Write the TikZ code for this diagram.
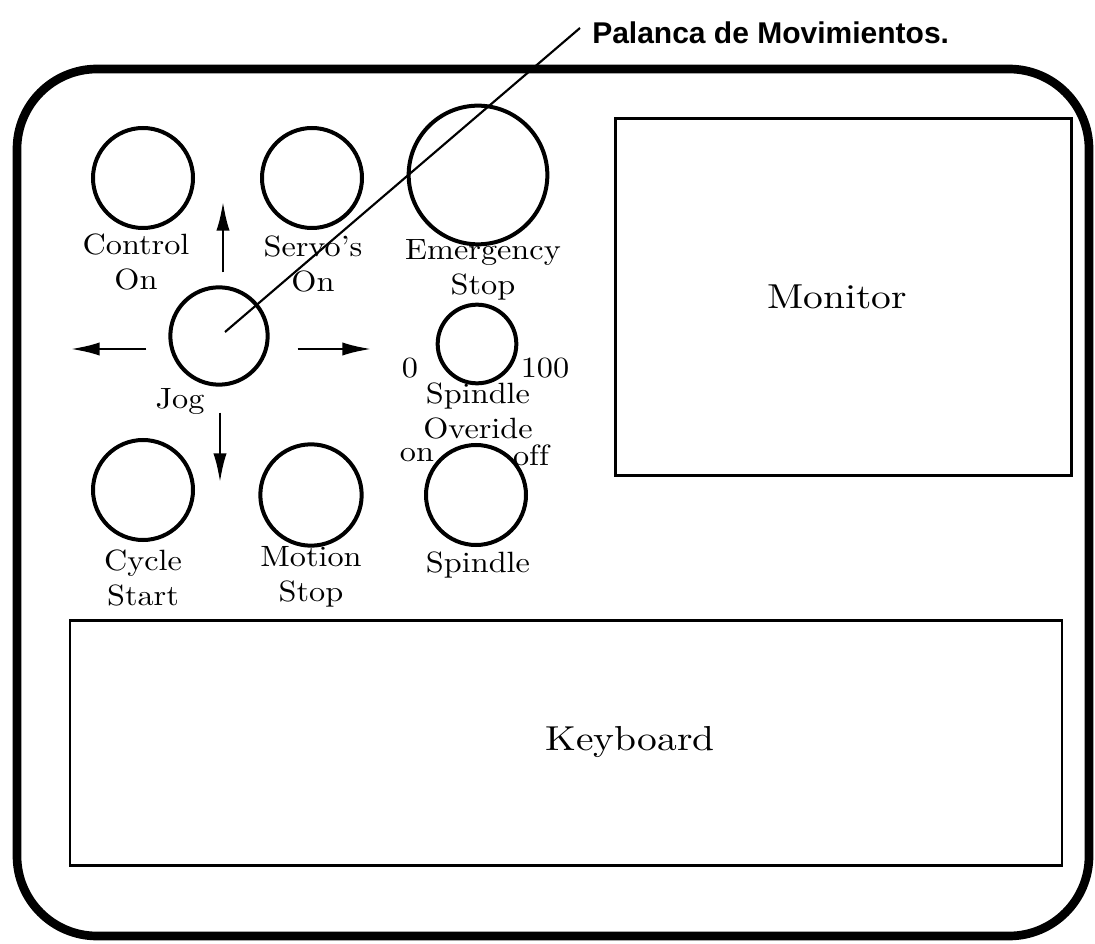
\documentclass[tikz,border=0pt]{standalone}
\usepackage{fontspec}
\newfontfamily\leverfont{Liberation Sans}
\newfontfamily\panelfont{lmroman10-regular.otf}[FakeStretch=1.1, Ligatures=NoCommon]
\newfontfamily\screenfont{lmroman10-regular.otf}[FakeStretch=1.14]
\usetikzlibrary{arrows.meta}

\begin{document}
\begin{tikzpicture}[x=0.75pt, y=-0.75pt,
    button/.style={circle, draw, line width=3pt, minimum size=#1, inner sep=0pt},
    panel/.style={draw, line width=2.2pt, inner sep=0pt},
    caption/.style={align=center, inner sep=0pt,
      font=\panelfont\fontsize{22}{26}\selectfont},
    bigcaption/.style={inner sep=0pt,
      font=\screenfont\fontsize{26}{30}\selectfont},
    jogarrow/.style={line width=2.2pt, -{Latex[length=22pt, width=10pt]}},
    ]

    \useasboundingbox (0,0) rectangle (1095,944);

    % console frame
    \draw[line width=6.5pt, rounded corners=60pt] (17,69) rectangle (1089,936);

    % screen and keyboard
    \node[panel, minimum width=342pt, minimum height=268pt] (monitor) at (843.5,297) {};
    \node[bigcaption] at (837,297) {Monitor};
    \node[panel, minimum width=744pt, minimum height=184pt] (keyboard) at (566,743) {};
    \node[bigcaption] at (630,742) {Keyboard};

    % buttons
    \node[button=75pt] (ctrl) at (143,178) {};
    \node[button=75pt] (servo) at (312,178) {};
    \node[button=104pt] (estop) at (478,175) {};
    \node[button=73pt] (jog) at (219,336) {};
    \node[button=59pt] (override) at (477,344) {};
    \node[button=75pt] (cycle) at (143,490) {};
    \node[button=76pt] (mstop) at (311,495) {};
    \node[button=75pt] (spindle) at (476,495) {};

    % button captions
    \node[caption] (ctrl-l) at (136,262) {Control\\On};
    \node[caption] (servo-l) at (313,264) {Servo’s\\On};
    \node[caption] (estop-l) at (483,270) {Emergency\\Stop};
    \node[caption] (jog-l) at (180,402) {Jog};
    \node[caption] (ovr-min) at (410,368) {0};
    \node[caption] (ovr-max) at (545,368) {100};
    \node[caption] (override-l) at (478,411) {Spindle\\Overide};
    \node[caption] (sp-on) at (417,455) {on};
    \node[caption] (sp-off) at (531,455) {off};
    \node[caption] (cycle-l) at (143,578) {Cycle\\Start};
    \node[caption] (mstop-l) at (311,577) {Motion\\Stop};
    \node[caption] (spindle-l) at (478,565) {Spindle};

    % jog directions
    \draw[jogarrow] ([shift={(4,-13)}]jog.north) -- ++(0,-71);
    \draw[jogarrow] ([shift={(1,26)}]jog.south) -- ++(0,70);
    \draw[jogarrow] ([shift={(-22,13)}]jog.west) -- ++(-76,0);
    \draw[jogarrow] ([shift={(28,13)}]jog.east) -- ++(74,0);

    % lever callout
    \node[anchor=west, inner sep=0pt, font=\leverfont\bfseries\fontsize{22.5}{26}\selectfont]
      (lever) at (592,33) {Palanca de Movimientos.};
    \coordinate (lever-end) at (580,28);
    \draw[line width=1.6pt] ([shift={(6,-4)}]jog.center) -- (lever-end);

\end{tikzpicture}
\end{document}
